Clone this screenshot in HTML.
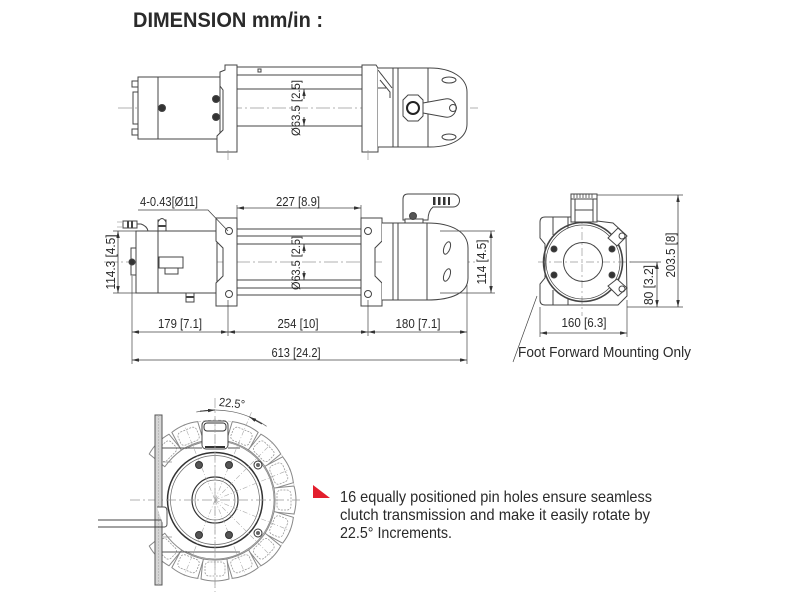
<!DOCTYPE html>
<html><head><meta charset="utf-8"><style>
html,body{margin:0;padding:0;background:#fff;}
svg{display:block;}
text{font-family:"Liberation Sans",sans-serif;fill:#2a2a2a;}
</style></head><body>
<svg width="800" height="600" viewBox="0 0 800 600" xmlns="http://www.w3.org/2000/svg">
<defs>
<marker id="ar" viewBox="0 0 8 4" refX="8" refY="2" markerWidth="7" markerHeight="3.5" orient="auto-start-reverse" markerUnits="userSpaceOnUse"><path d="M0,0L8,2L0,4Z" fill="#333"/></marker>
<g id="lobe">
<path d="M201,421 Q215,417 229,421 L227,441 Q215,439 203,441 Z" fill="#fff" stroke="#888" stroke-width="1" stroke-linejoin="round"/>
<rect x="205" y="424" width="20" height="14" rx="4" fill="none" stroke="#999" stroke-width="0.8" stroke-dasharray="2 1.2"/>
</g>
</defs>
<rect width="800" height="600" fill="#fff"/>

<!-- TITLE -->
<text x="133" y="27" font-size="21" font-weight="bold" textLength="190" lengthAdjust="spacingAndGlyphs" fill="#111">DIMENSION mm/in :</text>

<!-- ================= TOP VIEW ================= -->
<g stroke="#444" fill="none" stroke-width="1">
<line x1="118" y1="108" x2="478" y2="108" stroke="#999" stroke-dasharray="14 3 2 3" stroke-width="0.8"/>
<rect x="138" y="77" width="82" height="62" fill="#fff"/>
<line x1="158" y1="77" x2="158" y2="139"/>
<rect x="132" y="81" width="6" height="6"/>
<rect x="132" y="129" width="6" height="6"/>
<rect x="133" y="92" width="5" height="32"/>
<circle cx="162" cy="108" r="3.5" fill="#333"/>
<circle cx="216" cy="99" r="3.5" fill="#333"/>
<circle cx="216" cy="117" r="3.5" fill="#333"/>
<polygon points="225,65 237,65 237,152 217,152 217,136 223,130 223,90 220,86 220,72 225,70" fill="#fff"/>
<line x1="237" y1="67" x2="362" y2="67"/>
<line x1="237" y1="75" x2="362" y2="75"/>
<line x1="237" y1="89" x2="362" y2="89"/>
<line x1="237" y1="126" x2="362" y2="126"/>
<rect x="258" y="69" width="3" height="3"/>
<polygon points="362,65 376,65 378,68 378,152 362,152" fill="#fff"/>
<path d="M378,68 L430,68 C452,68 467,78 467,92 L467,124 C467,138 452,147 430,147 L378,147" fill="#fff"/>
<line x1="393" y1="68" x2="393" y2="147"/>
<line x1="398" y1="68" x2="398" y2="147"/>
<line x1="428" y1="68" x2="428" y2="147"/>
<path d="M378,70 L392,88 M380,80 L390,92 L390,98 M378,88 L386,88"/>
<ellipse cx="449" cy="80" rx="7" ry="3"/>
<ellipse cx="449" cy="137" rx="7" ry="3"/>
<path d="M423,103 L445,99 A9.2,9.2 0 1,1 445,117 L423,113" fill="#fff"/>
<circle cx="453" cy="108" r="3.5"/>
<polygon points="408,95 418,95 423,100 423,116 418,121 408,121 403,116 403,100" fill="#fff"/>
<circle cx="413" cy="108" r="6" stroke-width="2" stroke="#222"/>
<line x1="304" y1="99" x2="304" y2="89" marker-end="url(#ar)"/>
<line x1="304" y1="117" x2="304" y2="126" marker-end="url(#ar)"/>
<line x1="228" y1="150" x2="228" y2="160" stroke="#999" stroke-width="0.7"/>
<line x1="368" y1="150" x2="368" y2="160" stroke="#999" stroke-width="0.7"/>
</g>
<text transform="translate(300,108) rotate(-90)" text-anchor="middle" font-size="12" textLength="56" lengthAdjust="spacingAndGlyphs">Ø63.5 [2.5]</text>

<!-- ================= SIDE VIEW ================= -->
<g stroke="#444" fill="none" stroke-width="1">
<line x1="104" y1="262" x2="478" y2="262" stroke="#999" stroke-dasharray="14 3 2 3" stroke-width="0.8"/>
<rect x="136" y="231" width="81" height="62" fill="#fff"/>
<line x1="158" y1="231" x2="158" y2="293"/>
<rect x="131" y="248" width="5" height="27"/>
<circle cx="132" cy="262" r="3" fill="#333"/>
<rect x="159" y="257" width="24" height="11"/>
<rect x="165" y="268" width="13" height="6"/>
<rect x="158" y="220" width="8" height="11" fill="#fff"/>
<path d="M158,222 Q162,215 166,222" fill="#fff"/>
<line x1="158" y1="226" x2="166" y2="226" stroke-width="2"/>
<path d="M148,231 Q147,226 141,224 L137,224"/>
<rect x="123" y="221" width="14" height="7" fill="#fff"/>
<line x1="128" y1="221" x2="128" y2="228" stroke-width="2"/>
<line x1="132" y1="221" x2="132" y2="228" stroke-width="2"/>
<path d="M117,222 L123,222 M117,227 L123,227" stroke="#aaa" stroke-width="0.7"/>
<rect x="186" y="293" width="8" height="9" fill="#fff"/>
<line x1="186" y1="297" x2="194" y2="297" stroke-width="2"/>
<polygon points="216,218 237,218 237,306 216,306 216,283 223,276 223,248 216,241" fill="#fff"/>
<circle cx="229" cy="231" r="3.5"/>
<circle cx="229" cy="294" r="3.5"/>
<line x1="237" y1="229" x2="361" y2="229"/>
<line x1="237" y1="236" x2="361" y2="236"/>
<line x1="237" y1="244" x2="361" y2="244"/>
<line x1="237" y1="280" x2="361" y2="280"/>
<line x1="237" y1="288" x2="361" y2="288"/>
<line x1="237" y1="295" x2="361" y2="295"/>
<polygon points="361,218 382,218 382,241 375,248 375,276 382,283 382,306 361,306" fill="#fff"/>
<circle cx="368" cy="231" r="3.5"/>
<circle cx="368" cy="294" r="3.5"/>
<path d="M382,223 L427,223 C452,223 468,232 468,248 L468,278 C468,293 452,300 427,300 L382,300" fill="#fff"/>
<line x1="393" y1="223" x2="393" y2="300"/>
<line x1="398" y1="223" x2="398" y2="300"/>
<line x1="427" y1="223" x2="427" y2="300"/>
<ellipse cx="447" cy="248" rx="3" ry="6.5" transform="rotate(20 447 248)"/>
<ellipse cx="447" cy="275" rx="3" ry="6.5" transform="rotate(20 447 275)"/>
<path d="M408,194 L453,194 A6.5,6.5 0 0 1 453,207 L433,207 Q428,211 428,220 L403,220 L403,199 Q403,194 408,194 Z" fill="#fff"/>
<rect x="433" y="197" width="2.5" height="8" fill="#333" stroke="none"/>
<rect x="438" y="197" width="2.5" height="8" fill="#333" stroke="none"/>
<rect x="443" y="197" width="2.5" height="8" fill="#333" stroke="none"/>
<rect x="448" y="197" width="2" height="8" fill="#333" stroke="none"/>
<rect x="405" y="219" width="18" height="4" fill="#fff"/>
<circle cx="413" cy="216" r="3.5" fill="#555"/>
<line x1="237" y1="208" x2="361" y2="208" marker-start="url(#ar)" marker-end="url(#ar)" stroke-width="0.8"/>
<line x1="237" y1="205" x2="237" y2="218" stroke-width="0.7"/>
<line x1="361" y1="205" x2="361" y2="218" stroke-width="0.7"/>
<polyline points="138,210 208,210 228,231" stroke-width="0.8"/>
<line x1="118" y1="231" x2="118" y2="293" marker-start="url(#ar)" marker-end="url(#ar)" stroke-width="0.8"/>
<line x1="113" y1="231" x2="136" y2="231" stroke-width="0.7"/>
<line x1="113" y1="293" x2="136" y2="293" stroke-width="0.7"/>
<line x1="491" y1="231" x2="491" y2="293" marker-start="url(#ar)" marker-end="url(#ar)" stroke-width="0.8"/>
<line x1="440" y1="231" x2="495" y2="231" stroke-width="0.7"/>
<line x1="440" y1="293" x2="495" y2="293" stroke-width="0.7"/>
<line x1="132" y1="276" x2="132" y2="364" stroke-width="0.7"/>
<line x1="228" y1="300" x2="228" y2="336" stroke-width="0.7"/>
<line x1="368" y1="300" x2="368" y2="336" stroke-width="0.7"/>
<line x1="467" y1="285" x2="467" y2="364" stroke-width="0.7"/>
<line x1="132" y1="332" x2="228" y2="332" marker-start="url(#ar)" marker-end="url(#ar)" stroke-width="0.8"/>
<line x1="228" y1="332" x2="368" y2="332" marker-start="url(#ar)" marker-end="url(#ar)" stroke-width="0.8"/>
<line x1="368" y1="332" x2="467" y2="332" marker-start="url(#ar)" marker-end="url(#ar)" stroke-width="0.8"/>
<line x1="132" y1="360" x2="467" y2="360" marker-start="url(#ar)" marker-end="url(#ar)" stroke-width="0.8"/>
</g>
<text x="298" y="206" text-anchor="middle" font-size="13" textLength="44" lengthAdjust="spacingAndGlyphs">227 [8.9]</text>
<text x="140" y="206" font-size="13" textLength="58" lengthAdjust="spacingAndGlyphs">4-0.43[Ø11]</text>
<text transform="translate(115,262) rotate(-90)" text-anchor="middle" font-size="13" textLength="55" lengthAdjust="spacingAndGlyphs">114.3 [4.5]</text>
<text transform="translate(486,262) rotate(-90)" text-anchor="middle" font-size="13" textLength="45" lengthAdjust="spacingAndGlyphs">114 [4.5]</text>
<text transform="translate(300,263) rotate(-90)" text-anchor="middle" font-size="12" textLength="54" lengthAdjust="spacingAndGlyphs">Ø63.5 [2.5]</text>
<line x1="304" y1="253" x2="304" y2="244" stroke="#444" stroke-width="1" marker-end="url(#ar)"/>
<line x1="304" y1="271" x2="304" y2="280" stroke="#444" stroke-width="1" marker-end="url(#ar)"/>
<text x="180" y="328" text-anchor="middle" font-size="13" textLength="44" lengthAdjust="spacingAndGlyphs">179 [7.1]</text>
<text x="298" y="328" text-anchor="middle" font-size="13" textLength="41" lengthAdjust="spacingAndGlyphs">254 [10]</text>
<text x="418" y="328" text-anchor="middle" font-size="13" textLength="45" lengthAdjust="spacingAndGlyphs">180 [7.1]</text>
<text x="296" y="357" text-anchor="middle" font-size="13" textLength="49" lengthAdjust="spacingAndGlyphs">613 [24.2]</text>

<!-- ================= END VIEW ================= -->
<g stroke="#444" fill="none" stroke-width="1">
<path d="M545,217 L571,217 L571,221 L597,221 L613,223 L626,235 L627,296 L618,305 L545,305 Q540,305 540,300 L540,284 L545,278 L545,244 L540,238 L540,222 Q540,217 545,217 Z" fill="#fff"/>
<line x1="553" y1="217" x2="553" y2="235"/>
<line x1="568" y1="217" x2="568" y2="228"/>
<line x1="553" y1="290" x2="553" y2="305"/>
<line x1="568" y1="298" x2="568" y2="305"/>
<line x1="582" y1="200" x2="582" y2="316" stroke="#999" stroke-dasharray="8 3 2 3" stroke-width="0.7"/>
<line x1="538" y1="262" x2="632" y2="262" stroke="#999" stroke-dasharray="8 3 2 3" stroke-width="0.7"/>
<circle cx="583" cy="262" r="39.5" fill="none" stroke-width="1.6"/>
<circle cx="583" cy="262" r="37" fill="none" stroke-width="0.7"/>
<circle cx="583" cy="262" r="19.5"/>
<circle cx="554" cy="249" r="3" fill="#333"/>
<circle cx="612" cy="249" r="3" fill="#333"/>
<circle cx="554" cy="275" r="3" fill="#333"/>
<circle cx="612" cy="275" r="3" fill="#333"/>
<path d="M608,238 L618,228 L627,236 L617,246 Z" fill="#fff"/>
<circle cx="622" cy="236" r="3"/>
<path d="M608,286 L617,279 L627,288 L618,296 Z" fill="#fff"/>
<circle cx="622" cy="289" r="3"/>
<rect x="571" y="194" width="26" height="28" fill="#fff"/>
<line x1="571" y1="199" x2="597" y2="199"/>
<line x1="575" y1="199" x2="575" y2="222"/>
<line x1="593" y1="199" x2="593" y2="222"/>
<line x1="575" y1="210" x2="593" y2="210"/>
<path d="M574,194 L574,198 M577,194 L577,198 M580,194 L580,198 M583,194 L583,198 M586,194 L586,198 M589,194 L589,198 M592,194 L592,198" stroke-width="0.8"/>
<line x1="597" y1="195" x2="683" y2="195" stroke-width="0.7"/>
<line x1="627" y1="307" x2="683" y2="307" stroke-width="0.7"/>
<line x1="630" y1="262" x2="661" y2="262" stroke-width="0.7"/>
<line x1="678" y1="195" x2="678" y2="307" marker-start="url(#ar)" marker-end="url(#ar)" stroke-width="0.8"/>
<line x1="657" y1="262" x2="657" y2="307" marker-start="url(#ar)" marker-end="url(#ar)" stroke-width="0.8"/>
<line x1="540" y1="307" x2="540" y2="337" stroke-width="0.7"/>
<line x1="627" y1="300" x2="627" y2="337" stroke-width="0.7"/>
<line x1="540" y1="333" x2="627" y2="333" marker-start="url(#ar)" marker-end="url(#ar)" stroke-width="0.8"/>
<line x1="513" y1="362" x2="537" y2="296" stroke-width="0.7"/>
</g>
<text transform="translate(675,255) rotate(-90)" text-anchor="middle" font-size="13" textLength="45" lengthAdjust="spacingAndGlyphs">203.5 [8]</text>
<text transform="translate(653,285) rotate(-90)" text-anchor="middle" font-size="13" textLength="40" lengthAdjust="spacingAndGlyphs">80 [3.2]</text>
<text x="584" y="327" text-anchor="middle" font-size="13" textLength="45" lengthAdjust="spacingAndGlyphs">160 [6.3]</text>
<text x="518" y="357" font-size="15" textLength="173" lengthAdjust="spacingAndGlyphs">Foot Forward Mounting Only</text>

<!-- ================= BOTTOM DETAIL ================= -->
<g stroke="#555" fill="none" stroke-width="1">
<!-- ring inner arc -->
<path d="M185.5,448.9 A59,59 0 1 1 185.5,551.1" stroke="#888" stroke-width="0.8"/>
<path d="M175,431 A80,80 0 1 1 175,569" stroke="#bbb" stroke-width="0.6" stroke-dasharray="3 2"/>
<!-- lobes -->
<use href="#lobe" transform="rotate(-45 215 500)"/>
<use href="#lobe" transform="rotate(-22.5 215 500)"/>
<use href="#lobe" transform="rotate(22.5 215 500)"/>
<use href="#lobe" transform="rotate(45 215 500)"/>
<use href="#lobe" transform="rotate(67.5 215 500)"/>
<use href="#lobe" transform="rotate(90 215 500)"/>
<use href="#lobe" transform="rotate(112.5 215 500)"/>
<use href="#lobe" transform="rotate(135 215 500)"/>
<use href="#lobe" transform="rotate(157.5 215 500)"/>
<use href="#lobe" transform="rotate(180 215 500)"/>
<use href="#lobe" transform="rotate(202.5 215 500)"/>
<use href="#lobe" transform="rotate(225 215 500)"/>
<!-- top clutch lobe -->
<rect x="202" y="421" width="26" height="28" rx="4" fill="#fff" stroke="#444"/>
<rect x="204" y="423" width="22" height="8" rx="3" stroke="#333" fill="#fff"/>
<line x1="205" y1="447" x2="225" y2="447" stroke="#333" stroke-width="2"/>
<!-- plate -->
<path d="M162,448 L202,448 M228,448 L240,448 M162,552 L240,552" stroke="#555"/>
<line x1="163" y1="462" x2="172" y2="462" stroke="#888" stroke-width="0.7"/>
<line x1="163" y1="537" x2="172" y2="537" stroke="#888" stroke-width="0.7"/>
<!-- housing -->
<circle cx="215" cy="500" r="47.5" fill="#fff" stroke="#333" stroke-width="1.5"/>
<circle cx="215" cy="500" r="44.5" stroke="#666" stroke-width="0.7"/>
<circle cx="215" cy="500" r="23" stroke="#333" stroke-width="1.2"/>
<circle cx="215" cy="500" r="20" stroke="#666" stroke-width="0.7"/>
<g stroke="#aaa" stroke-width="0.6" stroke-dasharray="5 2 1 2">
<line x1="215" y1="500" x2="215" y2="418"/>
<line x1="215" y1="500" x2="252" y2="411"/>
<line x1="215" y1="500" x2="273" y2="442"/>
<line x1="215" y1="500" x2="291" y2="469"/>
<line x1="215" y1="500" x2="291" y2="531"/>
<line x1="215" y1="500" x2="273" y2="558"/>
<line x1="215" y1="500" x2="246" y2="576"/>
<line x1="215" y1="500" x2="215" y2="590"/>
<line x1="215" y1="500" x2="184" y2="576"/>
<line x1="215" y1="500" x2="184" y2="424"/>
</g>
<circle cx="199" cy="465" r="3.5" fill="#555" stroke="#333"/>
<circle cx="229" cy="465" r="3.5" fill="#555" stroke="#333"/>
<circle cx="199" cy="535" r="3.5" fill="#555" stroke="#333"/>
<circle cx="229" cy="535" r="3.5" fill="#555" stroke="#333"/>
<circle cx="258" cy="465" r="4" fill="#fff" stroke="#333"/>
<circle cx="258" cy="465" r="2" fill="#666" stroke="none"/>
<circle cx="258" cy="533" r="4" fill="#fff" stroke="#333"/>
<circle cx="258" cy="533" r="2" fill="#666" stroke="none"/>
<line x1="130" y1="500" x2="300" y2="500" stroke="#999" stroke-dasharray="10 3 2 3" stroke-width="0.7"/>
<line x1="215" y1="398" x2="215" y2="592" stroke="#999" stroke-dasharray="10 3 2 3" stroke-width="0.7"/>
<path d="M196.3,412 A90,90 0 0 1 266.6,426.3" stroke="#666" stroke-width="0.7"/>
<path d="M200,411.2 L215,410" stroke="#333" stroke-width="1" marker-end="url(#ar)"/>
<path d="M262,424 L249.4,416.9" stroke="#333" stroke-width="1" marker-end="url(#ar)"/>
<rect x="155" y="415" width="7" height="170" fill="#d6d6d6" stroke="#555"/>
<line x1="158.5" y1="415" x2="158.5" y2="585" stroke="#aaa" stroke-width="0.6" stroke-dasharray="2 1"/>
<line x1="98" y1="520" x2="165" y2="520" stroke="#444"/>
<line x1="98" y1="527" x2="165" y2="527" stroke="#444"/>
<path d="M157,507 L164,507 Q167,507 167,511 L167,524 Q167,527 164,527" fill="#fff" stroke="#555"/>
</g>
<text x="219" y="407" font-size="12" fill="#888" transform="rotate(6 230 403)" textLength="26" lengthAdjust="spacingAndGlyphs">22.5°</text>

<polygon points="313,485 313,498 330,498" fill="#e31e2d"/>

<g font-size="16" fill="#222">
<text x="340" y="502" textLength="312" lengthAdjust="spacingAndGlyphs">16 equally positioned pin holes ensure seamless</text>
<text x="340" y="520" textLength="310" lengthAdjust="spacingAndGlyphs">clutch transmission and make it easily rotate by</text>
<text x="340" y="538" textLength="112" lengthAdjust="spacingAndGlyphs">22.5° Increments.</text>
</g>
</svg>
</body></html>
